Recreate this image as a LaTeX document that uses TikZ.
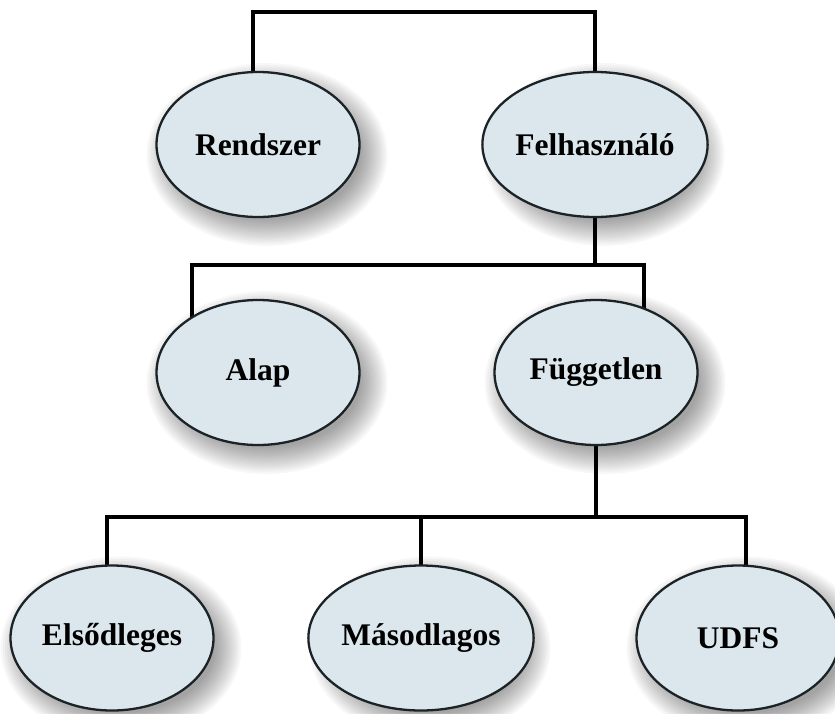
\documentclass[tikz,border=0pt]{standalone}
\usepackage{fontspec}
\setmainfont{Liberation Serif}
\usetikzlibrary{shapes.geometric,backgrounds,calc}
\definecolor{ellfill}{HTML}{DCE7ED}
\definecolor{ellline}{HTML}{1C2326}
\pgfdeclarelayer{paper}
\pgfdeclarelayer{shade}
\pgfsetlayers{paper,shade,background,main}
\begin{document}
\begin{tikzpicture}[x=1pt,y=-1pt,
  ell/.style={ellipse, minimum width=203pt, minimum height=145pt, inner sep=0pt,
    draw=ellline, line width=2.3pt, fill=ellfill,
    font=\bfseries\fontsize{31.5}{36}\selectfont},
  conn/.style={line width=3.6pt, draw=black, line join=miter},
  shadowpiece/.style={fill=black, fill opacity=0.03}]
\useasboundingbox (0,0) rectangle (835,713);
\begin{pgfonlayer}{paper}
\fill[white] (0,0) rectangle (835,713);
\end{pgfonlayer}

\node[ell] (rendszer) at (258,144.5) {Rendszer};
\node[ell] (felh) at (595,144.5) {Felhasználó};
\node[ell] (alap) at (258,372.5) {Alap};
\node[ell] (fugg) at (596,372.5) {Független};
\node[ell] (els) at (112,638) {Elsődleges};
\node[ell] (mas) at (421,638) {Másodlagos};
\node[ell] (udfs) at (738,638) {UDFS};

\begin{pgfonlayer}{shade}
\foreach \n in {rendszer,felh,alap,fugg,els,mas,udfs}{
  \foreach \i in {0,...,12}{
    \fill[shadowpiece] ($(\n.center)+(9,10)$) ellipse ({94+2.2*\i} and {65+2.2*\i});
  }
}
\end{pgfonlayer}

\coordinate (t1) at (253,12);
\coordinate (t2) at (595,12);
\coordinate (m1) at (192,265);
\coordinate (m2) at (644,265);
\coordinate (b1) at (107,517);
\coordinate (b2) at (421,517);
\coordinate (b3) at (746,517);

\begin{scope}[on background layer]
\draw[conn] (rendszer.center -| t1) -- (t1) -- (t2) -- (felh.center -| t2);
\draw[conn] (felh) -- (felh |- m1);
\draw[conn] (alap.center -| m1) -- (m1) -- (m2) -- (fugg.center -| m2);
\draw[conn] (fugg) -- (fugg |- b2);
\draw[conn] (els.center -| b1) -- (b1) -- (b3) -- (udfs.center -| b3);
\draw[conn] (b2) -- (mas.center -| b2);
\end{scope}
\end{tikzpicture}
\end{document}
